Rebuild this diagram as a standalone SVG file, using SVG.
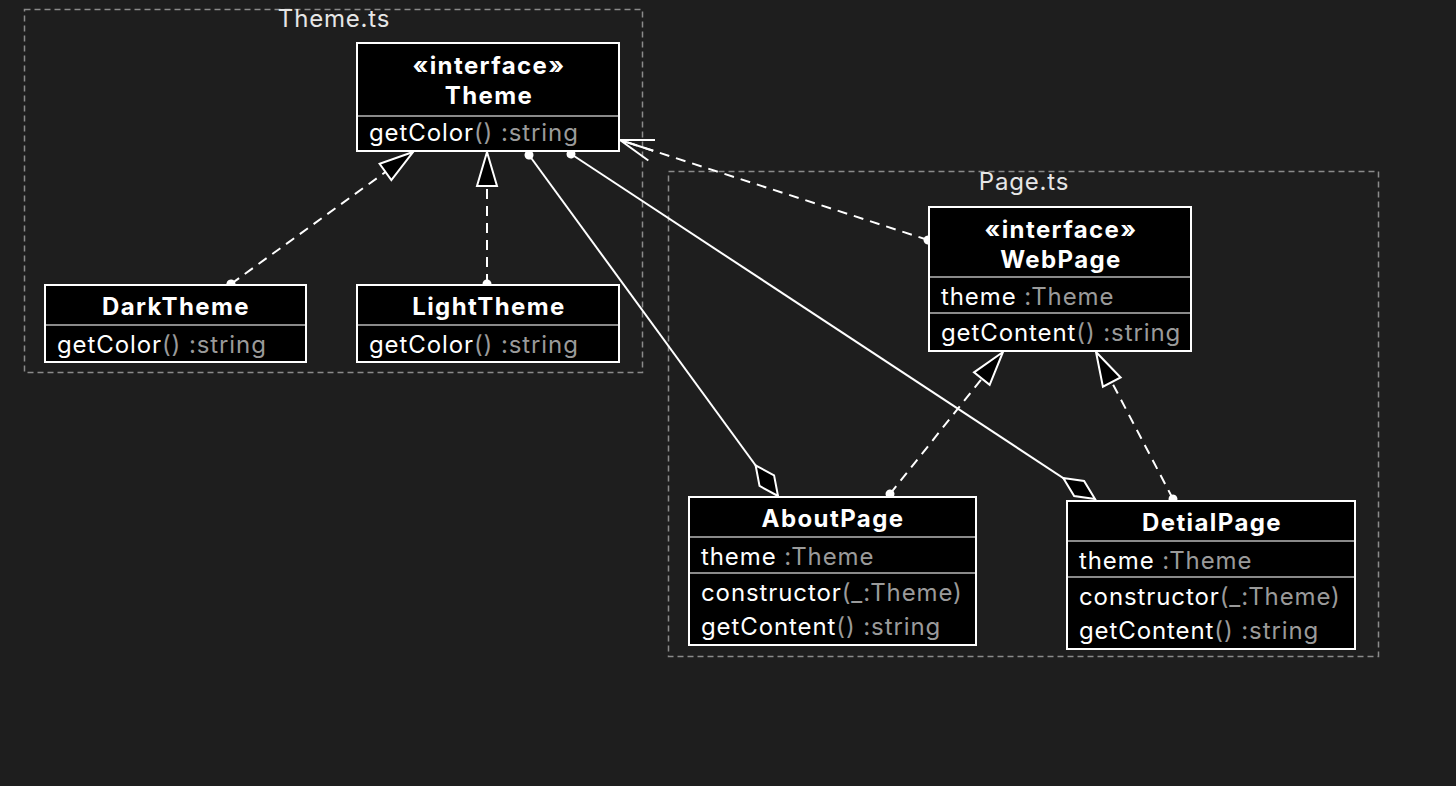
<svg xmlns="http://www.w3.org/2000/svg" width="1456" height="786" viewBox="0 0 1456 786">
<style>
.bg{fill:#1e1e1e}
.pkg{fill:none;stroke:#8a8a8a;stroke-width:1.5;stroke-dasharray:6 4}
.pkgl{font-family:Inter,"Liberation Sans",sans-serif;font-size:24px;letter-spacing:0.8px;fill:#e6e6e6;text-anchor:middle}
.box{fill:#000;stroke:#fff;stroke-width:2}
.div{stroke:#8a8a8a;stroke-width:2}
.t{font-family:Inter,"Liberation Sans",sans-serif;font-size:24px;letter-spacing:0.9px;fill:#fff}
.ttl{font-family:Inter,"Liberation Sans",sans-serif;font-size:24px;letter-spacing:1.4px;font-weight:bold;fill:#fff;text-anchor:middle}
.g{fill:#9a9a9a}
.ln{fill:none;stroke:#fff;stroke-width:2}
.dash{stroke-dasharray:10 7}
</style>
<defs>
<marker id="tri" markerUnits="userSpaceOnUse" markerWidth="40" markerHeight="26" viewBox="-1 -13 40 26" refX="36" refY="0" orient="auto">
<path d="M36,0 L2,-10 L2,10 Z" fill="#000" stroke="#fff" stroke-width="2" stroke-dasharray="none"/>
</marker>
<marker id="dia" markerUnits="userSpaceOnUse" markerWidth="44" markerHeight="24" viewBox="-2 -12 44 24" refX="38" refY="0" orient="auto">
<path d="M38,0 L19,-9 L0,0 L19,9 Z" fill="#000" stroke="#fff" stroke-width="2" stroke-dasharray="none"/>
</marker>
<marker id="open" markerUnits="userSpaceOnUse" markerWidth="40" markerHeight="30" viewBox="-2 -15 40 30" refX="35" refY="0" orient="auto">
<path d="M1.7,-10.8 L35,0 L1.7,10.8 M0,0 L35,0" fill="none" stroke="#fff" stroke-width="2" stroke-dasharray="none"/>
</marker>
<marker id="dot" markerUnits="userSpaceOnUse" markerWidth="12" markerHeight="12" viewBox="-6 -6 12 12" refX="0" refY="0" orient="auto">
<circle cx="0" cy="0" r="4.5" fill="#fff"/>
</marker>
</defs>
<rect class="bg" x="0" y="0" width="1456" height="786"/>

<g id="pkg-theme">
<rect class="pkg" x="24.5" y="9.5" width="618" height="363"/>
<text class="pkgl" x="334" y="27">Theme.ts</text>
</g>
<g id="pkg-page">
<rect class="pkg" x="668.5" y="171.5" width="710" height="485"/>
<text class="pkgl" x="1024" y="190">Page.ts</text>
</g>

<g id="connectors">
<path class="ln dash" d="M231,284 L413,152" marker-start="url(#dot)" marker-end="url(#tri)"/>
<path class="ln dash" d="M487,284 L487,152" marker-start="url(#dot)" marker-end="url(#tri)"/>
<path class="ln" d="M529,155 L778,496" marker-start="url(#dot)" marker-end="url(#dia)"/>
<path class="ln" d="M571,154 L1095,499" marker-start="url(#dot)" marker-end="url(#dia)"/>
<path class="ln dash" d="M928,240 L620,140" marker-start="url(#dot)" marker-end="url(#open)"/>
<path class="ln dash" d="M890,494 L1003,352" marker-start="url(#dot)" marker-end="url(#tri)"/>
<path class="ln dash" d="M1173,499 L1096,352" marker-start="url(#dot)" marker-end="url(#tri)"/>
</g>

<g id="Theme">
<rect class="box" x="357" y="43" width="262" height="108"/>
<text class="ttl" x="489" y="74">«interface»</text>
<text class="ttl" x="489" y="104">Theme</text>
<line class="div" x1="358" y1="116" x2="618" y2="116"/>
<text class="t" x="369" y="141">getColor<tspan class="g">() :string</tspan></text>
</g>

<g id="DarkTheme">
<rect class="box" x="45" y="285" width="261" height="77"/>
<text class="ttl" x="176" y="315">DarkTheme</text>
<line class="div" x1="46" y1="325" x2="305" y2="325"/>
<text class="t" x="57" y="353">getColor<tspan class="g">() :string</tspan></text>
</g>

<g id="LightTheme">
<rect class="box" x="357" y="285" width="262" height="77"/>
<text class="ttl" x="489" y="315">LightTheme</text>
<line class="div" x1="358" y1="325" x2="618" y2="325"/>
<text class="t" x="369" y="353">getColor<tspan class="g">() :string</tspan></text>
</g>

<g id="WebPage">
<rect class="box" x="929" y="207" width="262" height="144"/>
<text class="ttl" x="1061" y="238">«interface»</text>
<text class="ttl" x="1061" y="268">WebPage</text>
<line class="div" x1="930" y1="277" x2="1190" y2="277"/>
<text class="t" x="941" y="305">theme<tspan class="g"> :Theme</tspan></text>
<line class="div" x1="930" y1="313" x2="1190" y2="313"/>
<text class="t" x="941" y="341">getContent<tspan class="g">() :string</tspan></text>
</g>

<g id="AboutPage">
<rect class="box" x="689" y="497" width="287" height="148"/>
<text class="ttl" x="833" y="527">AboutPage</text>
<line class="div" x1="690" y1="537" x2="975" y2="537"/>
<text class="t" x="701" y="565">theme<tspan class="g"> :Theme</tspan></text>
<line class="div" x1="690" y1="573" x2="975" y2="573"/>
<text class="t" x="701" y="601">constructor<tspan class="g">(_:Theme)</tspan></text>
<text class="t" x="701" y="635">getContent<tspan class="g">() :string</tspan></text>
</g>

<g id="DetialPage">
<rect class="box" x="1067" y="501" width="288" height="148"/>
<text class="ttl" x="1212" y="531">DetialPage</text>
<line class="div" x1="1068" y1="541" x2="1354" y2="541"/>
<text class="t" x="1079" y="569">theme<tspan class="g"> :Theme</tspan></text>
<line class="div" x1="1068" y1="577" x2="1354" y2="577"/>
<text class="t" x="1079" y="605">constructor<tspan class="g">(_:Theme)</tspan></text>
<text class="t" x="1079" y="639">getContent<tspan class="g">() :string</tspan></text>
</g>
</svg>
